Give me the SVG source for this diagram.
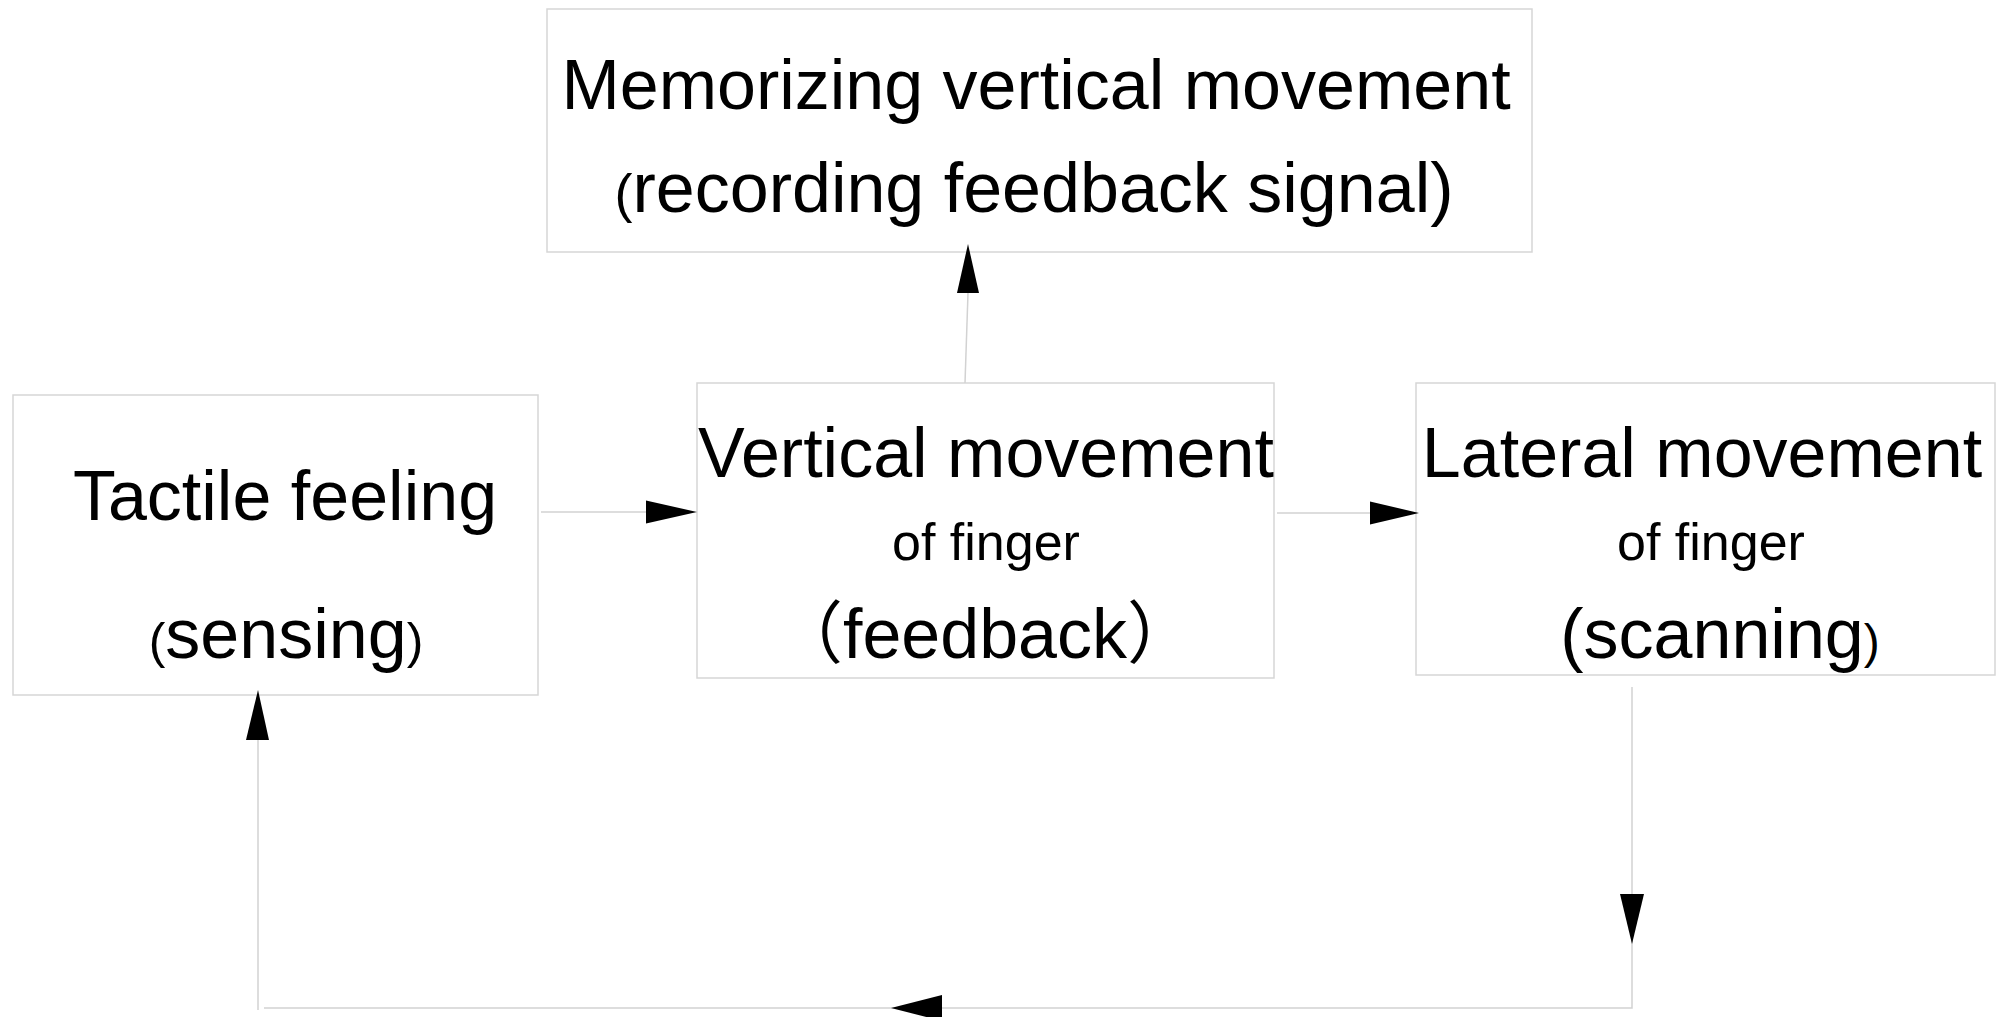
<svg xmlns="http://www.w3.org/2000/svg" width="2005" height="1017" viewBox="0 0 2005 1017">
<style>
.box{fill:#fff;stroke:#d6d6d6;stroke-width:1.5}
.t{font-family:"Liberation Sans",Arial,sans-serif;fill:#000;text-anchor:middle}
.big{font-size:70px}
.small{font-size:52px}
.conn{fill:none;stroke:#d2d2d2;stroke-width:1.5}
.head{fill:#000}
.cjk{font-family:"Noto Sans CJK SC",sans-serif}
</style>
<rect width="2005" height="1017" fill="#fff"/>
<g id="memorizing">
<rect class="box" x="547" y="9" width="985" height="243"/>
<text class="t big" x="1036" y="109">Memorizing vertical movement</text>
<text class="t big" x="1034" y="212"><tspan font-size="54">(</tspan>recording feedback signal)</text>
</g>
<g id="tactile">
<rect class="box" x="13" y="395" width="525" height="300"/>
<text class="t big" x="285" y="520">Tactile feeling</text>
<text class="t big" x="286" y="658"><tspan font-size="50">(</tspan>sensing<tspan font-size="50">)</tspan></text>
</g>
<g id="vertical">
<rect class="box" x="697" y="383" width="577" height="295"/>
<text class="t big" x="986" y="477">Vertical movement</text>
<text class="t small" x="986" y="560">of finger</text>
<text class="t big" x="985" y="658"><tspan class="cjk" font-size="68">（</tspan>feedback<tspan class="cjk" font-size="68">）</tspan></text>
</g>
<g id="lateral">
<rect class="box" x="1416" y="383" width="579" height="292"/>
<text class="t big" x="1702" y="477">Lateral movement</text>
<text class="t small" x="1711" y="560">of finger</text>
<text class="t big" x="1720" y="658">(scanning<tspan font-size="48">)</tspan></text>
</g>
<g id="connectors">
<line class="conn" x1="965" y1="383" x2="968" y2="293"/>
<polygon class="head" points="968,244 957,293 979,293"/>
<line class="conn" x1="541" y1="512" x2="646" y2="512"/>
<polygon class="head" points="697,512 646,500.5 646,523.5"/>
<line class="conn" x1="1277" y1="513" x2="1370" y2="513"/>
<polygon class="head" points="1419,513 1370,501.5 1370,524.5"/>
<polyline class="conn" points="1632,687 1632,1008 264,1008"/>
<polygon class="head" points="1632,944 1620,894 1644,894"/>
<polygon class="head" points="891,1008 942,995 942,1021"/>
<line class="conn" x1="258" y1="1010" x2="258" y2="740"/>
<polygon class="head" points="258,690 246,740 269,740"/>
</g>
</svg>
